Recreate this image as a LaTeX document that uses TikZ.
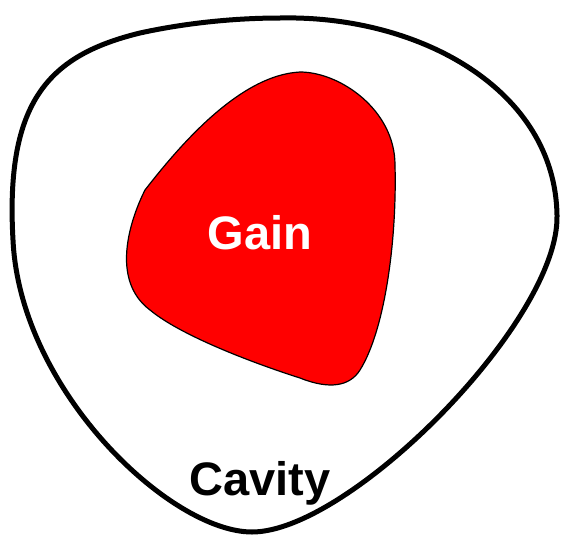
\documentclass[tikz,border=0pt]{standalone}
\usepackage{fontspec}
\setmainfont{Liberation Sans}
\usepackage{tikz}

\begin{document}
\begin{tikzpicture}[x=1pt, y=-1pt,
    bigtext/.style={font=\bfseries\fontsize{47}{47}\selectfont, inner sep=0pt}]
  \useasboundingbox (0,0) rectangle (568,544);
  % --- Cavite (contour exterieur) ---
  \draw[line width=5pt, line join=round]
    (280,18) .. controls (420,15) and (555,90) .. (557,215)
    .. controls (560,320) and (350,532) .. (252,532)
    .. controls (170,532) and (20,390) .. (13,240)
    .. controls (5,100) and (50,55) .. (140,33)
    .. controls (190,22) and (240,18) .. (280,18) -- cycle;
  % --- Milieu a gain ---
  \filldraw[fill=red, draw=black, line width=1.2pt]
    (300,72) .. controls (340,72) and (395,110) .. (395,165)
    .. controls (397,240) and (385,330) .. (360,370)
    .. controls (350,386) and (330,390) .. (300,378)
    .. controls (250,362) and (180,335) .. (150,310)
    .. controls (110,280) and (130,220) .. (145,190)
    .. controls (180,145) and (240,75) .. (300,72) -- cycle;
  \node[bigtext, white] (gain) at (260,233) {Gain};
  \node[bigtext, black] (cavity) at (260,483) {Cavity};
\end{tikzpicture}
\end{document}
